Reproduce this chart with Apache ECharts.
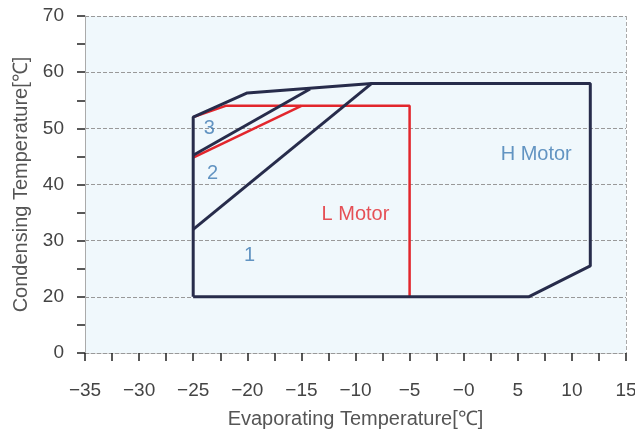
<!DOCTYPE html>
<html>
<head>
<meta charset="utf-8">
<script src="https://cdn.jsdelivr.net/npm/echarts@6/dist/echarts.min.js"></script>
<style>
  html, body { margin: 0; padding: 0; background: #fff; }
  #chart { width: 635px; height: 430px; }
</style>
</head>
<body>
<div id="chart"></div>
<script>
  // operating envelope
  var hMotorOutline = [[-25, 20], [6, 20], [11.7, 25.5], [11.7, 58], [-8.5, 58], [-20, 56.3], [-25, 52], [-25, 20]];
  var hLine1 = [[-25, 32], [-8.5, 58]];
  var hLine3 = [[-25, 45.2], [-14.2, 57]];
  var lMotorOutline = [[-25, 52], [-22, 54], [-5, 54], [-5, 20]];
  var lLine = [[-25, 44.8], [-15, 54]];

  var blueLabels = [['3', -23.5, 50], ['2', -23.2, 42], ['1', -19.8, 27.3], ['H Motor', 6.7, 45.3]];
  var redLabels = [['L Motor', -10, 34.7]];

  var font = 'Liberation Sans';
  var navy = '#272c4b';
  var red = '#e2262c';

  function lineSeries(data, color, width) {
    return {
      type: 'line',
      data: data,
      symbol: 'none',
      silent: true,
      lineStyle: { color: color, width: width },
      z: color == navy ? 3 : 2
    };
  }

  function labelSeries(list, color) {
    return {
      type: 'scatter',
      symbolSize: 0,
      silent: true,
      data: list.map(function (d) { return { value: [d[1], d[2]], name: d[0] }; }),
      label: {
        show: true,
        position: 'inside',
        formatter: function (p) { return p.name; },
        color: color,
        fontFamily: font,
        fontSize: 20
      },
      z: 4
    };
  }

  var option = {
    backgroundColor: '#fff',
    animation: false,
    grid: {
      left: 85, right: 9, top: 16, bottom: 77,
      outerBoundsMode: 'none',
      show: true, backgroundColor: '#f0f8fc', borderWidth: 0
    },
    xAxis: [{
      type: 'value',
      min: -35, max: 15, interval: 2.5,
      name: 'Evaporating Temperature[℃]',
      nameLocation: 'middle',
      nameGap: 56,
      nameTextStyle: { fontFamily: font, fontSize: 20, color: '#555' },
      axisLine: { show: true, onZero: false, lineStyle: { color: '#999', type: 'dashed', width: 1 } },
      axisTick: { show: true, length: 8, lineStyle: { color: '#222', width: 1.5 } },
      axisLabel: {
        margin: 28,
        fontFamily: font, fontSize: 19, color: '#444',
        formatter: function (v) {
          if (v % 5 != 0) return '';
          if (v == 0) return '\u22120';
          return v < 0 ? '\u2212' + (-v) : '' + v;
        }
      },
      splitLine: { show: false }
    }, {
      type: 'value',
      min: -35, max: 15, interval: 50,
      position: 'bottom',
      axisLine: { show: false }, axisTick: { show: false }, axisLabel: { show: false },
      splitLine: { show: true, lineStyle: { color: '#aaa', type: 'dashed', width: 1 } }
    }],
    yAxis: [{
      type: 'value',
      min: 10, max: 70, interval: 5,
      name: 'Condensing Temperature[℃]',
      nameLocation: 'middle',
      nameGap: 52,
      nameTextStyle: { fontFamily: font, fontSize: 20, color: '#555' },
      axisLine: { show: true, onZero: false, lineStyle: { color: '#aaa', type: 'dashed', width: 1 } },
      axisTick: { show: true, length: 8, lineStyle: { color: '#222', width: 1.5 } },
      axisLabel: {
        margin: 21,
        fontFamily: font, fontSize: 19, color: '#444',
        formatter: function (v) {
          if (v == 10) return '0';
          return v % 10 == 0 ? '' + v : '';
        }
      },
      splitLine: { show: false }
    }, {
      type: 'value',
      min: 10, max: 70, interval: 10,
      position: 'left',
      axisLine: { show: false }, axisTick: { show: false }, axisLabel: { show: false },
      splitLine: { show: true, lineStyle: { color: '#999', type: 'dashed', width: 1 } }
    }],
    series: [
      lineSeries(lMotorOutline, red, 2.5),
      lineSeries(lLine, red, 2.5),
      lineSeries(hMotorOutline, navy, 3),
      lineSeries(hLine1, navy, 3),
      lineSeries(hLine3, navy, 3),
      labelSeries(blueLabels, '#3f7bb3'),
      labelSeries(redLabels, red)
    ]
  };

  var myChart = echarts.init(document.getElementById('chart'));
  myChart.setOption(option);
</script>
</body>
</html>
